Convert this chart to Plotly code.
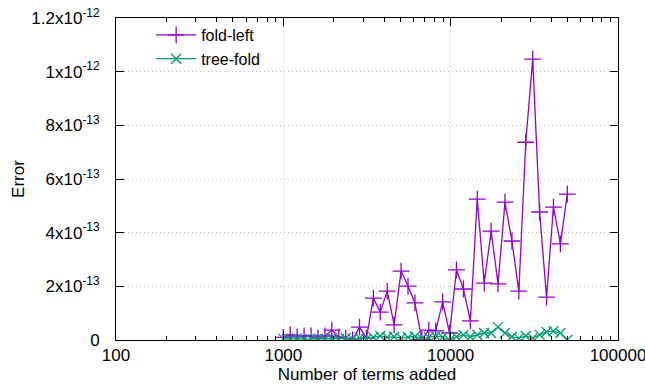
import plotly.graph_objects as go

terms = [1000, 1100, 1210, 1331, 1464, 1611, 1772, 1949, 2144, 2358, 2594, 2853,
         3138, 3452, 3797, 4177, 4595, 5054, 5560, 6116, 6727, 7400, 8140, 8954,
         9850, 10835, 11918, 13110, 14421, 15863, 17449, 19194, 21114, 23225,
         25548, 28102, 30913, 34004, 37404, 41145, 45259, 49785]

fold_left = [0.10, 0.19, 0.12, 0.15, 0.15, 0.07, 0.15, 0.37, 0.11, 0.07, 0.00, 0.48,
             0.07, 1.56, 1.04, 1.82, 0.56, 2.57, 2.01, 1.38, 0.02, 0.37, 0.34, 1.42,
             0.26, 2.61, 1.90, 0.71, 5.25, 2.12, 4.06, 2.09, 5.14, 3.69, 1.82, 7.37,
             10.47, 4.77, 1.60, 4.95, 3.58, 5.44]
fold_left = [v * 1e-13 for v in fold_left]

tree_fold = [0.05, 0.03, 0.06, 0.02, 0.04, 0.05, 0.03, 0.06, 0.04, 0.07, 0.05, 0.08,
             0.04, 0.10, 0.15, 0.10, 0.12, 0.08, 0.10, 0.13, 0.05, 0.10, 0.15, 0.10,
             0.00, 0.12, 0.19, 0.12, 0.19, 0.26, 0.26, 0.48, 0.26, 0.12, 0.07, 0.15,
             0.07, 0.19, 0.30, 0.33, 0.26, 0.00]
tree_fold = [v * 1e-13 for v in tree_fold]

y_tickvals = [0, 2e-13, 4e-13, 6e-13, 8e-13, 1e-12, 1.2e-12]
y_ticktext = ["0", "2x10<sup>-13</sup>", "4x10<sup>-13</sup>", "6x10<sup>-13</sup>",
              "8x10<sup>-13</sup>", "1x10<sup>-12</sup>", "1.2x10<sup>-12</sup>"]
x_tickvals = [100, 1000, 10000, 100000]
x_ticktext = ["100", "1000", "10000", "100000"]

PURPLE = "#9400D3"
GREEN = "#009E73"
FONT = "Liberation Sans, Arial, sans-serif"

fig = go.Figure()
fig.add_trace(go.Scatter(
    x=terms, y=fold_left, name="fold-left", mode="lines+markers",
    line=dict(color=PURPLE, width=1.3),
    marker=dict(symbol="cross-thin-open", size=12, color=PURPLE,
                line=dict(color=PURPLE, width=1.3))))
fig.add_trace(go.Scatter(
    x=terms, y=tree_fold, name="tree-fold", mode="lines+markers",
    line=dict(color=GREEN, width=1.3),
    marker=dict(symbol="x-thin-open", size=10, color=GREEN,
                line=dict(color=GREEN, width=1.3))))

fig.update_layout(
    width=645, height=388,
    margin=dict(l=116, r=27, t=18, b=48),
    paper_bgcolor="white", plot_bgcolor="white",
    font=dict(family=FONT, size=17, color="black"),
    showlegend=True,
    legend=dict(x=0.07, y=1.0, xanchor="left", yanchor="top",
                bgcolor="rgba(0,0,0,0)", font=dict(size=16),
                tracegroupgap=0, itemwidth=40),
)
fig.update_xaxes(
    type="log", range=[2, 5], automargin=False,
    tickvals=x_tickvals, ticktext=x_ticktext, ticklabeloverflow="allow",
    showline=True, linecolor="black", linewidth=1, mirror="allticks",
    ticks="inside", ticklen=8, tickcolor="black",
    minor=dict(ticks="inside", ticklen=4, tickcolor="black", dtick="D1", showgrid=False),
    showgrid=True, gridcolor="#bbbbbb", griddash="1px,3px", gridwidth=1,
    zeroline=False,
    tickfont=dict(size=17),
    title=dict(text="Number of terms added", font=dict(size=17), standoff=2),
)
fig.update_yaxes(
    range=[0, 1.2e-12], automargin=False,
    tickvals=y_tickvals, ticktext=y_ticktext, ticklabeloverflow="allow",
    showline=True, linecolor="black", linewidth=1, mirror="allticks",
    ticks="inside", ticklen=8, tickcolor="black",
    showgrid=True, gridcolor="#bbbbbb", griddash="1px,3px", gridwidth=1,
    zeroline=False,
    tickfont=dict(size=17),
    ticklabelstandoff=12,
    title=dict(text="Error", font=dict(size=17), standoff=2),
)

fig.write_html("out.html", config={"displayModeBar": False},
               post_script="document.body.style.margin='0';document.body.style.overflow='hidden';")
